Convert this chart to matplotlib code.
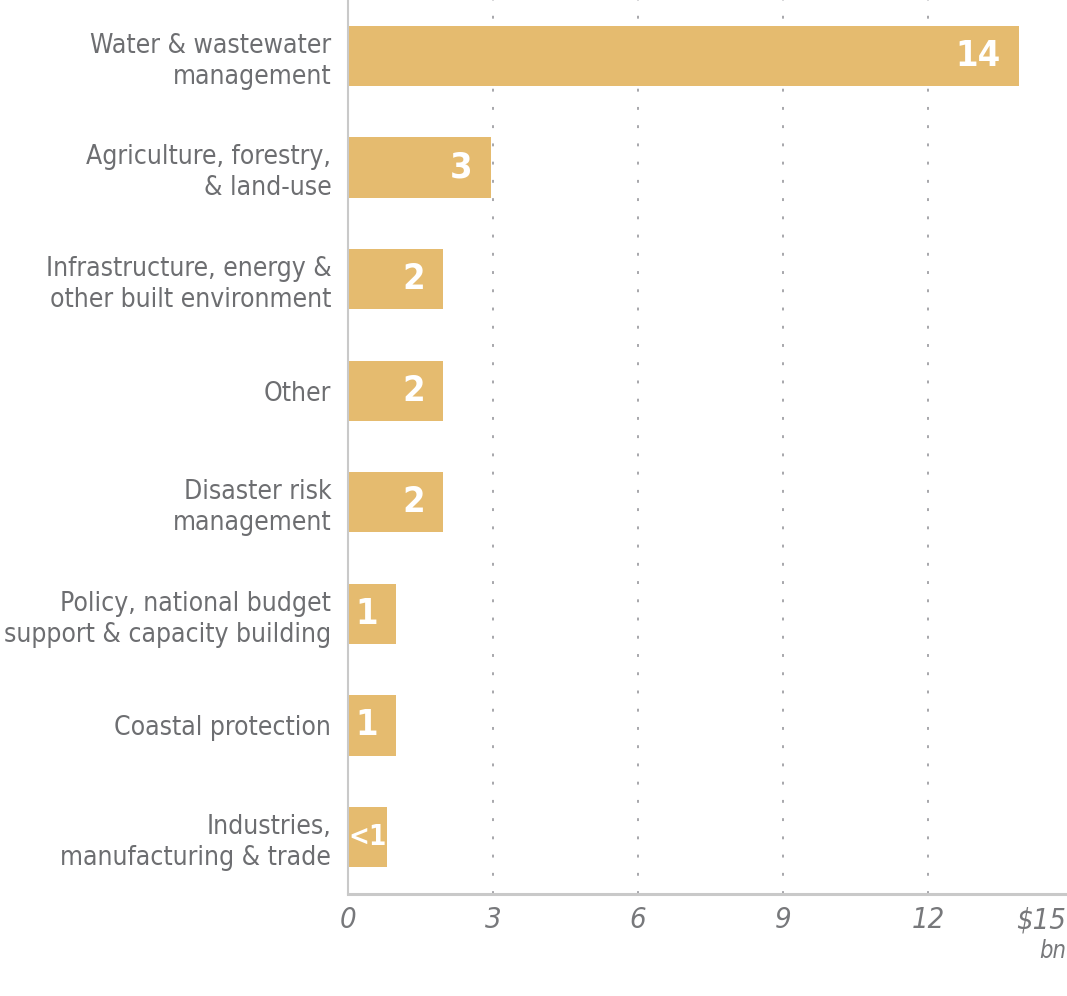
import matplotlib
matplotlib.use("Agg")
import matplotlib.pyplot as plt
from matplotlib.transforms import blended_transform_factory

categories = [
    "Water & wastewater\nmanagement",
    "Agriculture, forestry,\n& land-use",
    "Infrastructure, energy &\nother built environment",
    "Other",
    "Disaster risk\nmanagement",
    "Policy, national budget\nsupport & capacity building",
    "Coastal protection",
    "Industries,\nmanufacturing & trade",
]
values = [13.88, 2.95, 1.97, 1.97, 1.97, 0.99, 0.99, 0.8]
value_labels = ["14", "3", "2", "2", "2", "1", "1", "<1"]
tick_values = [0, 3, 6, 9, 12]
tick_labels = ["0", "3", "6", "9", "12"]

plt.rcParams["font.family"] = ["DejaVu Sans"]
plt.rcParams["font.stretch"] = "condensed"

bar_color = "#e5bb6f"
label_color = "#6d6e71"
axis_color = "#c9c9c9"

fig = plt.figure(figsize=(10.67, 9.96), dpi=100)
ax = fig.add_axes([348 / 1067, 1 - 894 / 996, (1073 - 348) / 1067, 894 / 996])

ypos = list(range(len(categories)))
ax.barh(ypos, values, height=0.54, color=bar_color, zorder=2)

for y, v, lab in zip(ypos, values, value_labels):
    if lab.startswith("<"):
        # too narrow for an inside-right label: centre it in the bar
        ax.text(v / 2, y, lab, ha="center", va="center", color="white",
                fontsize=20, fontweight="bold", zorder=3)
    else:
        ax.annotate(lab, (v, y), xytext=(-13, 0), textcoords="offset points",
                    ha="right", va="center", color="white",
                    fontsize=26, fontweight="bold", zorder=3)

# dotted gridlines
for t in tick_values[1:]:
    ax.axvline(t, color="#a0a0a5", lw=1.3, dashes=(1.6, 8.5), zorder=1)

ax.set_xlim(0, 15)
ax.set_ylim(len(categories) - 0.49, -0.5)

ax.set_yticks(ypos)
ax.set_yticklabels(categories, fontsize=19, color=label_color, linespacing=1.25)
ax.set_xticks(tick_values)
ax.set_xticklabels(tick_labels, fontsize=21, color="#77787b", style="italic")
ax.tick_params(axis="both", length=0)
ax.tick_params(axis="y", pad=12)
ax.tick_params(axis="x", pad=9)

trans = blended_transform_factory(ax.transData, ax.transAxes)
ax.text(14.86, -0.014, "\\$15", transform=trans, ha="right", va="top",
        fontsize=21, color="#77787b", style="italic")
ax.text(14.86, -0.05, "bn", transform=trans, ha="right", va="top",
        fontsize=17, color="#77787b", style="italic")

for s in ["top", "right"]:
    ax.spines[s].set_visible(False)
ax.spines["left"].set_color(axis_color)
ax.spines["left"].set_linewidth(1.5)
ax.spines["bottom"].set_color(axis_color)
ax.spines["bottom"].set_linewidth(2.2)

fig.savefig("out.png", dpi=100)
